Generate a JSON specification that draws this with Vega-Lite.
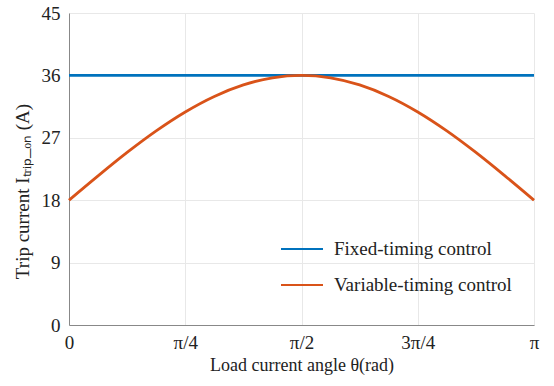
{
  "$schema": "https://vega.github.io/schema/vega-lite/v6.json",
  "autosize": {"type": "none"},
  "width": 465,
  "height": 312,
  "padding": {"left": 69, "top": 13, "right": 20, "bottom": 61},
  "background": "white",
  "config": {
    "font": "Liberation Serif",
    "view": {"stroke": null},
    "axis": {"labelFont": "Liberation Serif", "titleFont": "Liberation Serif"},
    "legend": {"labelFont": "Liberation Serif"}
  },
  "data": {
    "values": [
      {"theta": 0, "current": 36, "series": "Fixed-timing control"},
      {"theta": 3.14159, "current": 36, "series": "Fixed-timing control"},
      {"theta": 0, "current": 18, "series": "Variable-timing control"},
      {"theta": 0.19635, "current": 21.51, "series": "Variable-timing control"},
      {"theta": 0.39270, "current": 24.89, "series": "Variable-timing control"},
      {"theta": 0.58905, "current": 28.0, "series": "Variable-timing control"},
      {"theta": 0.78540, "current": 30.73, "series": "Variable-timing control"},
      {"theta": 0.98175, "current": 32.97, "series": "Variable-timing control"},
      {"theta": 1.17810, "current": 34.63, "series": "Variable-timing control"},
      {"theta": 1.37445, "current": 35.65, "series": "Variable-timing control"},
      {"theta": 1.57080, "current": 36.0, "series": "Variable-timing control"},
      {"theta": 1.76715, "current": 35.65, "series": "Variable-timing control"},
      {"theta": 1.96350, "current": 34.63, "series": "Variable-timing control"},
      {"theta": 2.15984, "current": 32.97, "series": "Variable-timing control"},
      {"theta": 2.35619, "current": 30.73, "series": "Variable-timing control"},
      {"theta": 2.55254, "current": 28.0, "series": "Variable-timing control"},
      {"theta": 2.74889, "current": 24.89, "series": "Variable-timing control"},
      {"theta": 2.94524, "current": 21.51, "series": "Variable-timing control"},
      {"theta": 3.14159, "current": 18, "series": "Variable-timing control"}
    ]
  },
  "mark": {"type": "line", "strokeWidth": 2.8, "interpolate": "monotone"},
  "encoding": {
    "x": {
      "field": "theta",
      "type": "quantitative",
      "scale": {"domain": [0, 3.14159], "nice": false, "zero": false},
      "axis": {
        "values": [0, 0.785398, 1.570796, 2.356194, 3.14159],
        "labelExpr": "datum.value < 0.1 ? '0' : datum.value < 1 ? 'π/4' : datum.value < 2 ? 'π/2' : datum.value < 3 ? '3π/4' : 'π'",
        "title": "Load current angle θ(rad)",
        "titleFont": "Liberation Serif",
        "titleFontWeight": "normal",
        "titleFontSize": 18,
        "titleColor": "#222222",
        "titlePadding": 4,
        "labelFont": "Liberation Serif",
        "labelFontSize": 19,
        "labelColor": "#222222",
        "labelPadding": 8,
        "labelFlush": false,
        "ticks": false,
        "grid": true,
        "gridColor": "#e8e8e8",
        "gridWidth": 1,
        "domainColor": "#888888",
        "domainWidth": 1
      }
    },
    "y": {
      "field": "current",
      "type": "quantitative",
      "scale": {"domain": [0, 45], "nice": false},
      "axis": {
        "values": [0, 9, 18, 27, 36, 45],
        "title": "Trip current Iₜᵣᵢₚ_ₒₙ (A)",
        "titleFont": "Liberation Serif",
        "titleFontWeight": "normal",
        "titleFontSize": 19,
        "titleColor": "#222222",
        "titleX": -47,
        "titleY": 178,
        "titleBaseline": "middle",
        "labelFont": "Liberation Serif",
        "labelFontSize": 19,
        "labelColor": "#222222",
        "labelPadding": 9,
        "labelFlush": false,
        "ticks": false,
        "grid": true,
        "gridColor": "#e8e8e8",
        "gridWidth": 1,
        "domainColor": "#888888",
        "domainWidth": 1
      }
    },
    "color": {
      "field": "series",
      "type": "nominal",
      "scale": {
        "domain": ["Fixed-timing control", "Variable-timing control"],
        "range": ["#0072BD", "#D95319"]
      },
      "legend": {
        "title": null,
        "orient": "none",
        "legendX": 211,
        "legendY": 214,
        "symbolType": "stroke",
        "symbolSize": 1764,
        "symbolStrokeWidth": 2,
        "labelFont": "Liberation Serif",
        "labelFontSize": 19,
        "labelColor": "#222222",
        "labelOffset": 10,
        "labelLimit": 400,
        "rowPadding": 4,
        "padding": 0
      }
    }
  }
}
